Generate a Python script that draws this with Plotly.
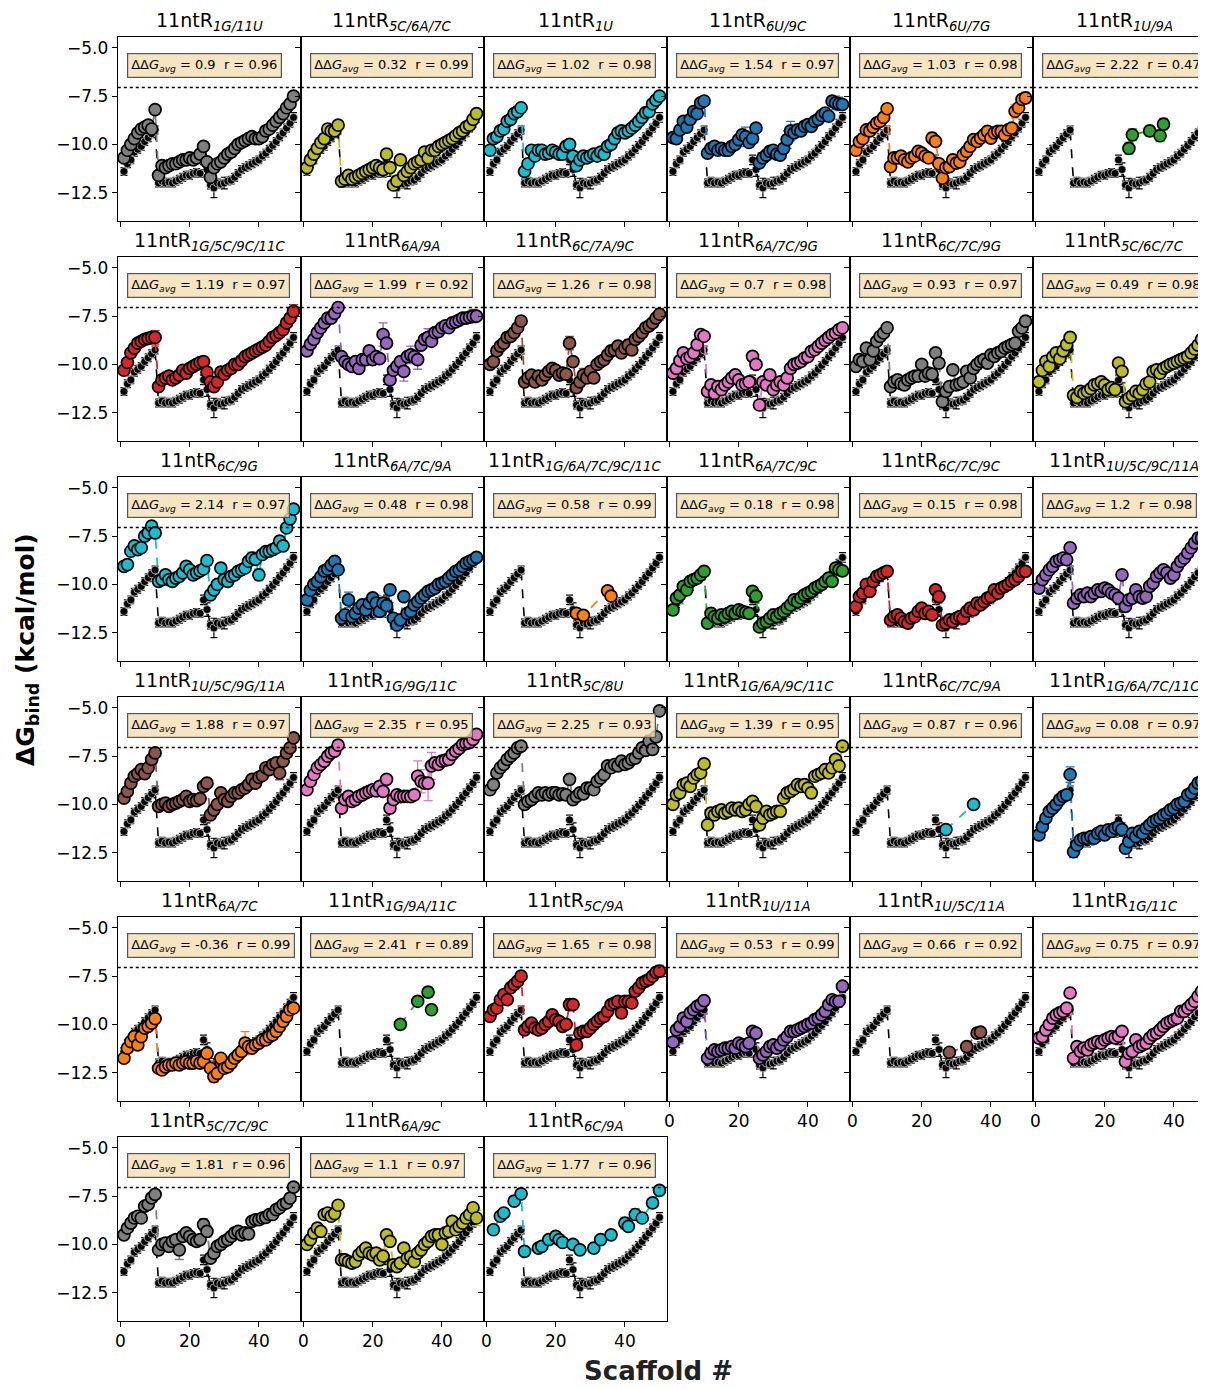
import plotly.graph_objects as go

# The page body has an 8px default margin, so the figure is drawn 8px in from
# the top-left of the 1206x1389 window; all pixel geometry is offset by it.
PAGE_W, PAGE_H, OFF = 1206, 1389, 8
W, H = PAGE_W - OFF, PAGE_H - OFF

# ---------------- data ----------------
scaffold = list(range(1, 51))

wt_dG = [-11.4, -11.0, -10.8, -10.4, -10.25, -10.1, -9.85, -9.65, -9.45, -9.25,
         -12.0, -11.9, -12.0, -11.95, -12.0, -11.9, -11.8, -11.7, -11.6, -11.6,
         -11.5, -11.45, -11.5, -10.8, -11.3, -12.1, -12.25, -12.0, -12.05, -12.0,
         -11.9, -11.85, -11.7, -11.5, -11.3, -11.2, -11.1, -11.0, -10.9, -10.8,
         -10.6, -10.45, -10.25, -10.05, -9.85, -9.6, -9.4, -9.15, -8.9, -8.6]
wt_err = [0.2, 0.2, 0.2, 0.2, 0.2, 0.2, 0.2, 0.2, 0.2, 0.2,
          0.2, 0.2, 0.2, 0.2, 0.2, 0.2, 0.2, 0.2, 0.2, 0.2,
          0.2, 0.2, 0.2, 0.25, 0.35, 0.2, 0.5, 0.2, 0.2, 0.3,
          0.2, 0.2, 0.2, 0.2, 0.2, 0.2, 0.2, 0.2, 0.2, 0.2,
          0.2, 0.2, 0.2, 0.2, 0.2, 0.2, 0.2, 0.2, 0.2, 0.25]

variant_subs = ["1G/11U", "5C/6A/7C", "1U", "6U/9C", "6U/7G", "1U/9A",
                "1G/5C/9C/11C", "6A/9A", "6C/7A/9C", "6A/7C/9G", "6C/7C/9G", "5C/6C/7C",
                "6C/9G", "6A/7C/9A", "1G/6A/7C/9C/11C", "6A/7C/9C", "6C/7C/9C", "1U/5C/9C/11A",
                "1U/5C/9G/11A", "1G/9G/11C", "5C/8U", "1G/6A/9C/11C", "6C/7C/9A", "1G/6A/7C/11C",
                "6A/7C", "1G/9A/11C", "5C/9A", "1U/11A", "1U/5C/11A", "1G/11C",
                "5C/7C/9C", "6A/9C", "6C/9A"]
ddg_avg = ["0.9", "0.32", "1.02", "1.54", "1.03", "2.22",
           "1.19", "1.99", "1.26", "0.7", "0.93", "0.49",
           "2.14", "0.48", "0.58", "0.18", "0.15", "1.2",
           "1.88", "2.35", "2.25", "1.39", "0.87", "0.08",
           "-0.36", "2.41", "1.65", "0.53", "0.66", "0.75",
           "1.81", "1.1", "1.77"]
r_vals = ["0.96", "0.99", "0.98", "0.97", "0.98", "0.47",
          "0.97", "0.92", "0.98", "0.98", "0.97", "0.98",
          "0.97", "0.98", "0.99", "0.98", "0.98", "0.98",
          "0.97", "0.95", "0.93", "0.95", "0.96", "0.97",
          "0.99", "0.89", "0.98", "0.99", "0.92", "0.97",
          "0.96", "0.97", "0.96"]

GRAY, OLIVE, CYAN, BLUE, ORANGE = "#7f7f7f", "#bcbd22", "#17becf", "#1f77b4", "#ff7f0e"
GREEN, RED, PURPLE, BROWN, PINK = "#2ca02c", "#d62728", "#9467bd", "#8c564b", "#e377c2"
panel_colors = [GRAY, OLIVE, CYAN, BLUE, ORANGE, GREEN,
                RED, PURPLE, BROWN, PINK, GRAY, OLIVE,
                CYAN, BLUE, ORANGE, GREEN, RED, PURPLE,
                BROWN, PINK, GRAY, OLIVE, CYAN, BLUE,
                ORANGE, GREEN, RED, PURPLE, BROWN, PINK,
                GRAY, OLIVE, CYAN]

s01 = [-10.7, -10.3, -10.0, -9.7, -9.4, -9.2, -9.1, -9.0, -9.2, -8.2,
       -11.6, -11.1, -11.2, -11.1, -11.0, -11.0, -10.9, -10.8, -10.8, -10.7,
       -10.8, -10.7, -10.5, -10.1, -10.9, -11.7, -11.2, -11.0, -10.9, -10.7,
       -10.5, -10.4, -10.2, -10.0, -9.9, -9.8, -9.7, -9.6, -9.7, -9.7,
       -9.6, -9.3, -9.2, -9.0, -8.8, -8.6, -8.4, -8.1, -7.9, -7.5]
s02 = [-11.2, -10.8, -10.5, -10.2, -9.9, -9.7, -9.2, -9.3, -9.3, -9.0,
       -11.9, -11.8, -11.6, -11.8, -11.7, -11.6, -11.5, -11.4, -11.3, -11.2,
       -11.1, -11.2, -11.3, -10.5, -11.2, -12.1, -11.9, -10.8, -11.6, -11.4,
       -11.2, -11.0, -10.9, -10.8, -10.4, -10.7, -10.3, -10.3, -10.1, -10.0,
       -9.9, -9.8, -9.7, -9.55, -9.4, -9.3, -9.1, -9.0, -8.7, -8.4]
s03 = [-10.3, -9.7, -9.6, -9.3, -9.2, -8.8, -8.7, -8.4, -8.3, -8.1,
       -11.4, -11.0, -10.3, -10.6, -10.3, -10.3, -10.5, -10.45, -10.3, -10.4,
       -10.5, -10.5, -10.1, -10.0, -10.6, -11.1, -10.8, -10.6, -10.7, -10.6,
       -10.5, -10.6, -10.4, -10.5, -10.1, -10.0, -9.7, -9.4, -9.3, -9.4,
       -9.3, -9.15, -9.0, -8.8, -8.6, -8.35, -8.3, -7.9, -7.7, -7.5]
s04 = [-9.65, -9.7, -9.25, -8.8, -9.1, -8.7, -8.3, -8.4, -7.85, -7.75,
       -10.45, -10.2, -10.1, -10.3, -10.2, -10.3, -10.3, -10.1, -10.0, -9.75,
       -9.5, -9.6, -9.9, -9.7, -9.15, -10.95, -10.7, -10.55, -10.36, -10.3,
       -10.5, -10.55, -10.2, -9.75, -9.3, -9.4, -9.24, -9.3, -9.06, -8.97,
       -9.06, -8.8, -8.7, -8.5, -8.37, -8.54, -7.76, -7.85, -7.9, -7.93]
s05 = [-10.3, -9.85, -9.7, -9.25, -9.3, -9.1, -8.9, -8.8, -8.6, -8.15,
       -11.15, -10.7, -10.7, -10.6, -10.8, -10.9, -10.7, -10.6, -10.36, -10.45,
       -10.6, -10.7, -9.67, -9.84, -11.0, -11.75, -11.2, -11.15, -10.8, -10.97,
       -10.9, -10.54, -10.36, -10.1, -9.75, -9.84, -9.67, -9.5, -9.32, -9.67,
       -9.4, -9.32, -9.32, -9.5, -9.24, -9.15, -8.28, -8.1, -7.67, -7.59]
x06 = [27, 28, 33, 36, 37]
s06 = [-10.2, -9.5, -9.3, -9.55, -8.95]
s07 = [-10.3, -9.9, -9.4, -9.15, -8.9, -8.8, -8.7, -8.65, -8.6, -8.6,
       -11.15, -10.8, -10.7, -10.6, -10.8, -10.7, -10.55, -10.3, -10.45, -10.2,
       -10.1, -10.0, -9.9, -9.85, -10.4, -10.9, -11.15, -10.9, -10.4, -10.5,
       -10.3, -10.2, -10.0, -10.0, -9.8, -9.6, -9.5, -9.4, -9.3, -9.2,
       -9.1, -9.0, -8.8, -8.6, -8.5, -8.35, -8.2, -7.85, -7.6, -7.25]
s08 = [-9.3, -8.95, -8.7, -8.35, -8.1, -7.85, -7.6, -7.6, -7.35, -7.05,
       -9.6, -9.85, -10.0, -10.1, -9.85, -10.2, -9.75, -9.75, -9.3, -9.75,
       -9.6, -9.7, -8.45, -8.9, -10.8, -10.3, -10.1, -9.85, -10.36, -9.6,
       -9.5, -9.6, -9.75, -9.0, -8.7, -8.6, -8.8, -8.35, -8.3, -8.1,
       -8.0, -8.1, -7.85, -7.8, -7.7, -7.6, -7.6, -7.55, -7.5, -7.5]
s09 = [-10.0, -9.85, -9.3, -9.05, -8.9, -8.6, -8.55, -8.35, -8.1, -7.75,
       -10.9, -10.7, -10.55, -10.9, -10.6, -10.8, -10.55, -10.36, -10.2, -10.3,
       -10.55, -10.45, -10.5, -8.9, -9.85, -11.2, -10.9, -10.55, -10.7, -10.36,
       -10.7, -10.0, -9.85, -9.75, -9.5, -9.3, -9.25, -9.05, -9.4, -9.15,
       -9.0, -9.25, -8.7, -8.55, -8.35, -8.1, -8.0, -7.85, -7.6, -7.4]
s10 = [-10.45, -10.2, -9.8, -9.4, -9.7, -9.6, -9.4, -8.97, -8.45, -8.54,
       -11.4, -11.06, -11.5, -11.15, -11.3, -11.06, -10.9, -10.7, -10.54, -10.8,
       -11.06, -11.0, -10.9, -9.58, -10.0, -12.1, -10.9, -11.06, -10.54, -11.3,
       -11.06, -10.9, -11.06, -10.7, -10.2, -10.0, -9.93, -9.84, -9.67, -9.6,
       -9.32, -9.24, -9.06, -8.9, -8.75, -8.6, -8.45, -8.37, -8.2, -8.1]
s11 = [-10.1, -9.75, -9.84, -9.15, -9.75, -9.3, -8.8, -8.55, -8.37, -8.1,
       -11.15, -10.9, -10.8, -11.0, -11.06, -10.8, -10.7, -10.6, -10.6, -10.0,
       -10.6, -10.45, -10.5, -9.4, -9.93, -11.93, -11.4, -11.15, -10.28, -11.06,
       -11.0, -10.9, -10.36, -10.7, -10.2, -10.0, -9.84, -9.75, -9.93, -9.5,
       -9.58, -9.4, -9.32, -9.15, -9.06, -8.97, -8.9, -8.28, -8.1, -7.76]
s12 = [-10.9, -10.3, -9.84, -10.1, -9.6, -9.4, -9.7, -9.3, -8.97, -8.6,
       -11.6, -11.7, -11.4, -11.5, -11.4, -11.25, -11.06, -11.0, -10.9, -11.06,
       -11.3, -11.2, -11.3, -9.93, -10.36, -11.93, -11.75, -11.6, -11.4, -11.5,
       -11.3, -11.0, -10.9, -10.36, -10.28, -10.45, -10.2, -10.1, -10.0, -9.93,
       -9.84, -9.75, -9.67, -9.58, -9.4, -9.2, -9.0, -8.7, -8.5, -8.4]
s13 = [-9.06, -8.97, -8.28, -8.0, -8.2, -8.1, -7.5, -7.33, -6.98, -7.33,
       -9.84, -9.75, -9.5, -9.75, -9.84, -9.67, -9.58, -9.4, -9.06, -9.24,
       -9.5, -9.4, -9.3, -9.2, -8.77, -10.54, -10.28, -10.0, -9.15, -9.75,
       -9.84, -9.58, -9.5, -9.32, -9.24, -9.15, -8.8, -8.63, -8.7, -9.5,
       -8.45, -8.3, -8.28, -8.2, -8.1, -7.76, -8.0, -7.07, -6.6, -6.1]
s14 = [-10.8, -10.3, -10.0, -9.85, -9.6, -9.3, -9.2, -9.0, -8.8, -9.24,
       -11.75, -11.58, -10.8, -11.67, -11.5, -11.23, -11.06, -11.32, -10.97, -10.7,
       -10.97, -11.4, -10.97, -11.1, -10.28, -11.75, -12.1, -11.84, -10.63, -11.5,
       -11.4, -11.06, -10.89, -10.7, -10.54, -10.36, -10.28, -10.19, -10.0, -9.93,
       -9.84, -9.67, -9.5, -9.32, -9.24, -9.06, -8.9, -8.8, -8.72, -8.6]
x15 = [26, 28, 35, 36]
s15 = [-11.5, -11.6, -10.33, -10.6]
s16 = [-11.32, -10.71, -10.54, -10.1, -10.28, -9.84, -9.75, -9.67, -9.5, -9.32,
       -12.0, -11.5, -11.67, -11.75, -11.58, -11.67, -11.5, -11.4, -11.5, -11.32,
       -11.4, -11.45, -11.5, -10.36, -10.6, -12.2, -12.0, -11.93, -11.75, -11.58,
       -11.67, -11.5, -11.4, -11.23, -11.06, -10.8, -10.89, -10.7, -10.54, -10.45,
       -10.36, -10.19, -10.1, -10.0, -9.84, -9.67, -9.84, -9.15, -9.24, -9.3]
s17 = [-11.15, -10.63, -10.45, -10.0, -10.36, -9.84, -9.58, -9.5, -9.4, -9.32,
       -11.84, -11.67, -11.58, -11.75, -11.93, -12.0, -11.75, -11.67, -11.4, -11.23,
       -11.5, -11.4, -11.58, -10.28, -10.63, -12.1, -12.0, -11.84, -11.93, -11.75,
       -11.67, -11.75, -11.4, -11.23, -11.32, -10.97, -11.06, -10.89, -10.71, -10.63,
       -10.28, -10.45, -10.19, -10.1, -10.0, -9.84, -9.75, -9.58, -9.32, -9.32]
s18 = [-10.19, -9.75, -9.5, -9.24, -9.06, -8.8, -8.72, -8.63, -8.72, -8.1,
       -10.97, -10.71, -10.54, -10.63, -10.45, -10.63, -10.45, -10.28, -10.36, -10.19,
       -10.28, -10.45, -10.54, -10.71, -9.5, -11.14, -10.8, -10.71, -10.28, -10.63,
       -10.71, -10.63, -10.1, -9.93, -9.58, -9.4, -9.24, -9.4, -9.67, -9.5,
       -9.06, -8.8, -8.63, -8.37, -8.1, -7.85, -7.6, -7.6, -7.7, -7.55]
s19 = [-9.67, -9.32, -8.9, -8.54, -8.4, -8.2, -8.4, -8.1, -7.67, -7.33,
       -10.1, -10.0, -9.93, -10.1, -10.0, -9.93, -9.84, -9.75, -9.58, -9.84,
       -9.75, -9.8, -9.7, -9.06, -8.9, -10.54, -10.28, -10.0, -9.4, -9.75,
       -9.84, -9.58, -9.4, -9.4, -9.24, -9.15, -8.97, -8.7, -8.9, -8.6,
       -8.5, -8.1, -8.2, -7.93, -7.85, -8.37, -7.76, -7.33, -7.07, -6.55]
s20 = [-9.24, -8.8, -8.45, -8.1, -7.93, -7.76, -7.5, -7.33, -7.24, -6.93,
       -10.19, -9.75, -9.58, -9.84, -9.75, -9.58, -9.5, -9.4, -9.32, -9.24,
       -9.3, -9.06, -9.32, -8.7, -10.19, -9.75, -9.5, -9.6, -9.58, -9.58,
       -9.6, -9.5, -8.54, -8.8, -8.9, -8.9, -8.0, -7.85, -7.93, -7.76,
       -7.7, -7.67, -7.41, -7.24, -7.1, -6.9, -6.85, -6.8, -6.63, -6.37]
s21 = [-9.24, -8.97, -8.37, -8.1, -7.93, -7.67, -7.5, -7.33, -7.07, -6.98,
       -10.0, -9.84, -9.75, -9.58, -9.4, -9.5, -9.4, -9.5, -9.4, -9.4,
       -9.5, -9.45, -9.5, -8.7, -9.75, -9.58, -9.4, -9.45, -9.15, -9.15,
       -9.24, -8.8, -8.63, -8.45, -8.0, -8.1, -7.93, -8.0, -7.76, -7.93,
       -7.85, -7.67, -7.6, -7.33, -7.07, -7.2, -6.72, -7.15, -6.5, -5.15]
s22 = [-10.0, -9.5, -9.4, -8.97, -8.9, -9.06, -8.63, -8.45, -8.37, -7.9,
       -11.06, -10.45, -10.54, -10.36, -10.28, -10.45, -10.36, -10.19, -10.28, -10.19,
       -10.36, -10.28, -10.0, -9.84, -10.1, -11.06, -10.71, -10.36, -10.54, -10.45,
       -10.36, -10.36, -9.67, -9.4, -9.32, -9.2, -8.97, -9.06, -8.97, -9.15,
       -9.4, -8.54, -8.45, -8.37, -8.2, -8.37, -8.1, -7.67, -8.0, -6.98]
x23 = [27, 35]
s23 = [-11.3, -10.0]
s24 = [-11.58, -11.15, -10.71, -10.36, -10.19, -10.0, -9.75, -9.58, -9.5, -8.45,
       -12.45, -12.1, -11.84, -11.75, -11.75, -11.67, -11.75, -11.5, -11.4, -11.58,
       -11.32, -11.4, -11.23, -11.15, -11.3, -12.27, -11.93, -11.5, -11.67, -11.4,
       -11.5, -11.23, -11.06, -10.89, -10.8, -10.71, -10.54, -10.45, -10.28, -10.19,
       -10.0, -9.93, -9.84, -9.5, -9.4, -9.15, -8.9, -8.8, -8.6, -8.45]
s25 = [-11.75, -11.23, -10.89, -10.63, -11.06, -10.63, -10.19, -10.1, -9.93, -9.7,
       -12.27, -12.36, -12.2, -12.1, -12.1, -12.0, -12.1, -12.0, -11.93, -12.0,
       -12.0, -11.9, -12.0, -11.93, -11.5, -12.27, -12.7, -12.53, -11.75, -12.27,
       -12.2, -12.0, -11.75, -11.58, -11.4, -10.97, -11.15, -11.23, -11.06, -10.97,
       -10.8, -10.8, -10.63, -10.54, -10.36, -10.1, -9.84, -9.58, -9.24, -9.15]
x26 = [28, 33, 36, 37]
s26 = [-10.0, -8.8, -8.33, -9.24]
s27 = [-9.58, -9.24, -9.15, -8.72, -8.45, -8.72, -8.1, -7.93, -7.76, -7.5,
       -10.28, -10.1, -9.93, -10.19, -10.28, -10.19, -10.0, -9.84, -9.5, -9.75,
       -9.84, -10.1, -10.0, -8.97, -8.97, -11.06, -10.45, -10.36, -10.36, -10.19,
       -10.0, -9.84, -9.67, -9.58, -9.32, -8.97, -8.89, -8.8, -9.4, -8.8,
       -8.8, -8.89, -8.28, -8.1, -7.85, -7.76, -7.67, -7.5, -7.3, -7.24]
s28 = [-10.92, -10.28, -10.1, -9.67, -9.84, -9.4, -9.24, -9.06, -8.97, -8.77,
       -11.75, -11.5, -11.32, -11.4, -11.32, -11.23, -11.23, -11.15, -11.23, -10.97,
       -11.06, -11.15, -10.97, -10.36, -10.45, -11.75, -11.58, -11.4, -11.15, -11.06,
       -11.23, -11.06, -10.8, -10.63, -10.36, -10.36, -10.28, -10.19, -10.1, -10.0,
       -9.93, -9.75, -9.67, -9.5, -9.32, -8.97, -8.72, -8.8, -8.8, -8.02]
x29 = [28, 33, 36, 37]
s29 = [-11.44, -11.15, -10.45, -10.4]
s30 = [-10.71, -10.63, -10.28, -10.0, -9.67, -9.5, -9.4, -9.32, -9.15, -8.37,
       -11.75, -11.15, -11.4, -11.23, -11.32, -11.06, -10.97, -10.89, -10.97, -10.8,
       -10.71, -10.63, -10.7, -10.6, -10.36, -11.93, -11.5, -11.4, -10.8, -11.15,
       -11.06, -10.97, -10.71, -10.54, -10.45, -10.28, -10.1, -9.93, -9.84, -9.75,
       -9.67, -9.32, -9.32, -9.15, -8.97, -8.8, -8.54, -8.28, -8.0, -7.5]
s31 = [-9.5, -9.15, -8.9, -8.63, -8.54, -8.63, -8.02, -7.93, -7.59, -7.41,
       -10.28, -10.0, -9.93, -10.1, -9.84, -9.75, -10.28, -9.58, -9.4, -9.58,
       -9.75, -9.84, -9.75, -8.97, -9.32, -10.71, -10.45, -10.1, -10.0, -9.84,
       -9.75, -9.58, -9.4, -9.32, -9.5, -9.4, -9.45, -8.8, -8.72, -8.72,
       -8.63, -8.6, -8.45, -8.45, -8.2, -8.1, -7.93, -7.85, -7.6, -7.03]
s32 = [-10.0, -9.75, -9.4, -9.15, -9.32, -8.45, -8.37, -8.54, -8.4, -7.97,
       -10.8, -10.8, -10.89, -10.97, -10.89, -10.54, -10.36, -10.19, -10.45, -10.54,
       -10.45, -10.8, -10.6, -9.5, -9.84, -11.06, -11.15, -10.97, -10.19, -10.71,
       -10.63, -10.89, -10.45, -10.28, -10.0, -9.84, -9.58, -9.5, -9.5, -10.0,
       -9.4, -9.32, -8.8, -9.24, -9.06, -8.9, -8.63, -8.45, -8.1, -8.63]
x33 = [2, 4, 5, 8, 10, 11, 15, 16, 18, 20, 21, 22, 25, 27, 31, 33, 36, 40, 41, 43, 45, 48, 50]
s33 = [-9.24, -8.54, -8.37, -7.76, -7.38, -10.36, -10.19, -10.1, -9.75, -9.58, -9.75, -9.9,
       -10.0, -10.28, -10.19, -9.75, -9.5, -8.9, -9.06, -8.45, -8.63, -7.85, -7.2]

panel_x = [scaffold, scaffold, scaffold, scaffold, scaffold, x06,
           scaffold, scaffold, scaffold, scaffold, scaffold, scaffold,
           scaffold, scaffold, x15, scaffold, scaffold, scaffold,
           scaffold, scaffold, scaffold, scaffold, x23, scaffold,
           scaffold, x26, scaffold, scaffold, x29, scaffold,
           scaffold, scaffold, x33]
panel_y = [s01, s02, s03, s04, s05, s06, s07, s08, s09, s10, s11, s12,
           s13, s14, s15, s16, s17, s18, s19, s20, s21, s22, s23, s24,
           s25, s26, s27, s28, s29, s30, s31, s32, s33]

# larger error bars: (panel index, scaffold, error)
big_err = [(3, 22, 0.5), (3, 34, 0.45), (3, 35, 0.5), (3, 48, 0.35), (3, 49, 0.35),
           (4, 23, 0.3), (4, 47, 0.35), (4, 50, 0.3),
           (5, 27, 0.3), (5, 28, 0.3), (5, 33, 0.25), (5, 36, 0.3), (5, 37, 0.3),
           (6, 10, 0.35), (6, 50, 0.35),
           (7, 23, 0.6), (7, 29, 0.5), (7, 31, 0.45), (7, 33, 0.5), (7, 36, 0.45), (7, 49, 0.35),
           (8, 24, 0.35), (8, 28, 0.35), (8, 41, 0.3), (8, 50, 0.3),
           (12, 10, 0.3), (12, 38, 0.3), (12, 40, 0.3),
           (13, 13, 0.4), (13, 21, 0.4), (13, 23, 0.3),
           (18, 46, 0.35), (19, 33, 0.8), (19, 34, 0.6), (19, 36, 0.9), (19, 37, 0.7),
           (20, 47, 0.3), (21, 12, 0.3), (21, 41, 0.3), (23, 10, 0.4), (23, 11, 0.3),
           (24, 27, 0.3), (24, 28, 0.3), (24, 36, 0.6), (25, 36, 0.25), (25, 37, 0.25),
           (26, 24, 0.3), (26, 50, 0.3), (30, 17, 0.5), (30, 24, 0.3), (30, 25, 0.3),
           (31, 23, 0.35), (31, 50, 0.4), (32, 40, 0.3), (32, 43, 0.3)]
DEFAULT_ERR = 0.15
threshold_dG = -7.05

x_ticks = [0, 20, 40]
y_ticks = [-5.0, -7.5, -10.0, -12.5]
y_ticktext = ["\u22125.0", "\u22127.5", "\u221210.0", "\u221212.5"]

# ---------------- layout geometry (page px) ----------------
PANEL_W, PANEL_H = 183.0, 183.4
X_LEFT0, Y_TOP0, ROW_PITCH = 117.8, 37.3, 220.0
PX_PER_UNIT = 3.46
XMIN = -0.78
YRANGE = [-13.95, -4.45]
FONT = "DejaVu Sans"

fig = go.Figure()
layout = {}
annotations = []
shapes = []

n_panels = len(panel_y)
for k in range(n_panels):
    r, c = divmod(k, 6)
    left = X_LEFT0 + PANEL_W * c - OFF
    right = min(left + PANEL_W, W)
    top = Y_TOP0 + ROW_PITCH * r - OFF
    bottom = top + PANEL_H
    ax = "" if k == 0 else str(k + 1)
    xa, ya = "x" + ax, "y" + ax
    show_x = (c < 3 and r == 5) or (c >= 3 and r == 4)
    layout["xaxis" + ax] = dict(
        domain=[left / W, right / W], anchor=ya, automargin=False,
        range=[XMIN, XMIN + (right - left) / PX_PER_UNIT],
        showgrid=False, zeroline=False, showline=True, mirror=True,
        linecolor="black", linewidth=1.2,
        ticks="outside", ticklen=5, tickwidth=1, tickcolor="black",
        tickvals=x_ticks, ticktext=[str(v) for v in x_ticks],
        showticklabels=show_x, tickfont=dict(size=17, color="black", family=FONT))
    layout["yaxis" + ax] = dict(
        domain=[1 - bottom / H, 1 - top / H], anchor=xa, automargin=False,
        range=YRANGE, showgrid=False, zeroline=False, showline=True,
        mirror=(c != 5), linecolor="black", linewidth=1.2,
        ticks="outside", ticklen=5, tickwidth=1, tickcolor="black",
        tickvals=y_ticks, ticktext=y_ticktext,
        showticklabels=(c == 0), tickfont=dict(size=17, color="black", family=FONT))

    # wild-type reference series
    fig.add_trace(go.Scatter(
        x=scaffold, y=wt_dG, xaxis=xa, yaxis=ya, mode="lines+markers",
        line=dict(color="black", width=1.6, dash="dash"),
        marker=dict(size=8, color="black", line=dict(color="white", width=0.6)),
        error_y=dict(type="data", array=wt_err, color="black", thickness=1.2, width=3.5),
        showlegend=False, hoverinfo="skip"))

    # variant series
    col = panel_colors[k]
    xs = panel_x[k]
    errs = []
    for xv in xs:
        e = DEFAULT_ERR
        for (pk, px_, pe) in big_err:
            if pk == k and px_ == xv:
                e = pe
        errs.append(e)
    fig.add_trace(go.Scatter(
        x=xs, y=panel_y[k], xaxis=xa, yaxis=ya, mode="lines+markers",
        line=dict(color=col, width=1.8, dash="dash"), connectgaps=True,
        marker=dict(size=12, color=col, line=dict(color="black", width=1.7)),
        error_y=dict(type="data", array=errs, color=col, thickness=1.3, width=4.5),
        showlegend=False, hoverinfo="skip"))

    # threshold dotted line
    shapes.append(dict(type="line", xref=xa + " domain", yref=ya,
                       x0=0, x1=1, y0=threshold_dG, y1=threshold_dG,
                       line=dict(color="black", width=1.5, dash="dot")))

    # panel title
    annotations.append(dict(
        xref=xa + " domain", yref=ya + " domain", x=0.5 * PANEL_W / (right - left), y=1,
        xanchor="center", yanchor="bottom", yshift=1, showarrow=False,
        text="11ntR<sub><i>" + variant_subs[k] + "</i></sub>",
        font=dict(size=19, color="black", family=FONT)))

    # stats box
    annotations.append(dict(
        xref=xa + " domain", yref=ya + " domain",
        x=9.6 / (right - left), y=1 - 15.4 / PANEL_H,
        xanchor="left", yanchor="top", showarrow=False,
        text="\u0394\u0394<i>G</i><sub><i>avg</i></sub> = " + ddg_avg[k]
             + "\u00a0\u00a0r = " + r_vals[k],
        font=dict(size=13, color="black", family=FONT),
        bgcolor="rgba(245,222,179,0.8)", bordercolor="#555555",
        borderwidth=1.2, borderpad=3))

annotations.append(dict(
    xref="paper", yref="paper", x=(27 - OFF) / W, y=1 - (650 - OFF) / H,
    xanchor="center", yanchor="middle", showarrow=False, textangle=-90,
    text="<b>\u0394G<sub>bind</sub> (kcal/mol)</b>",
    font=dict(size=25, color="black", family=FONT)))
annotations.append(dict(
    xref="paper", yref="paper", x=(658 - OFF) / W, y=1 - (1371 - OFF) / H,
    xanchor="center", yanchor="middle", showarrow=False,
    text="<b>Scaffold #</b>",
    font=dict(size=26, color="#222222", family=FONT)))

fig.update_layout(
    width=W, height=H, margin=dict(l=0, r=0, t=0, b=0, autoexpand=False),
    paper_bgcolor="white", plot_bgcolor="white",
    font=dict(family=FONT, color="black"),
    annotations=annotations, shapes=shapes, **layout)

fig.write_html("out.html")
